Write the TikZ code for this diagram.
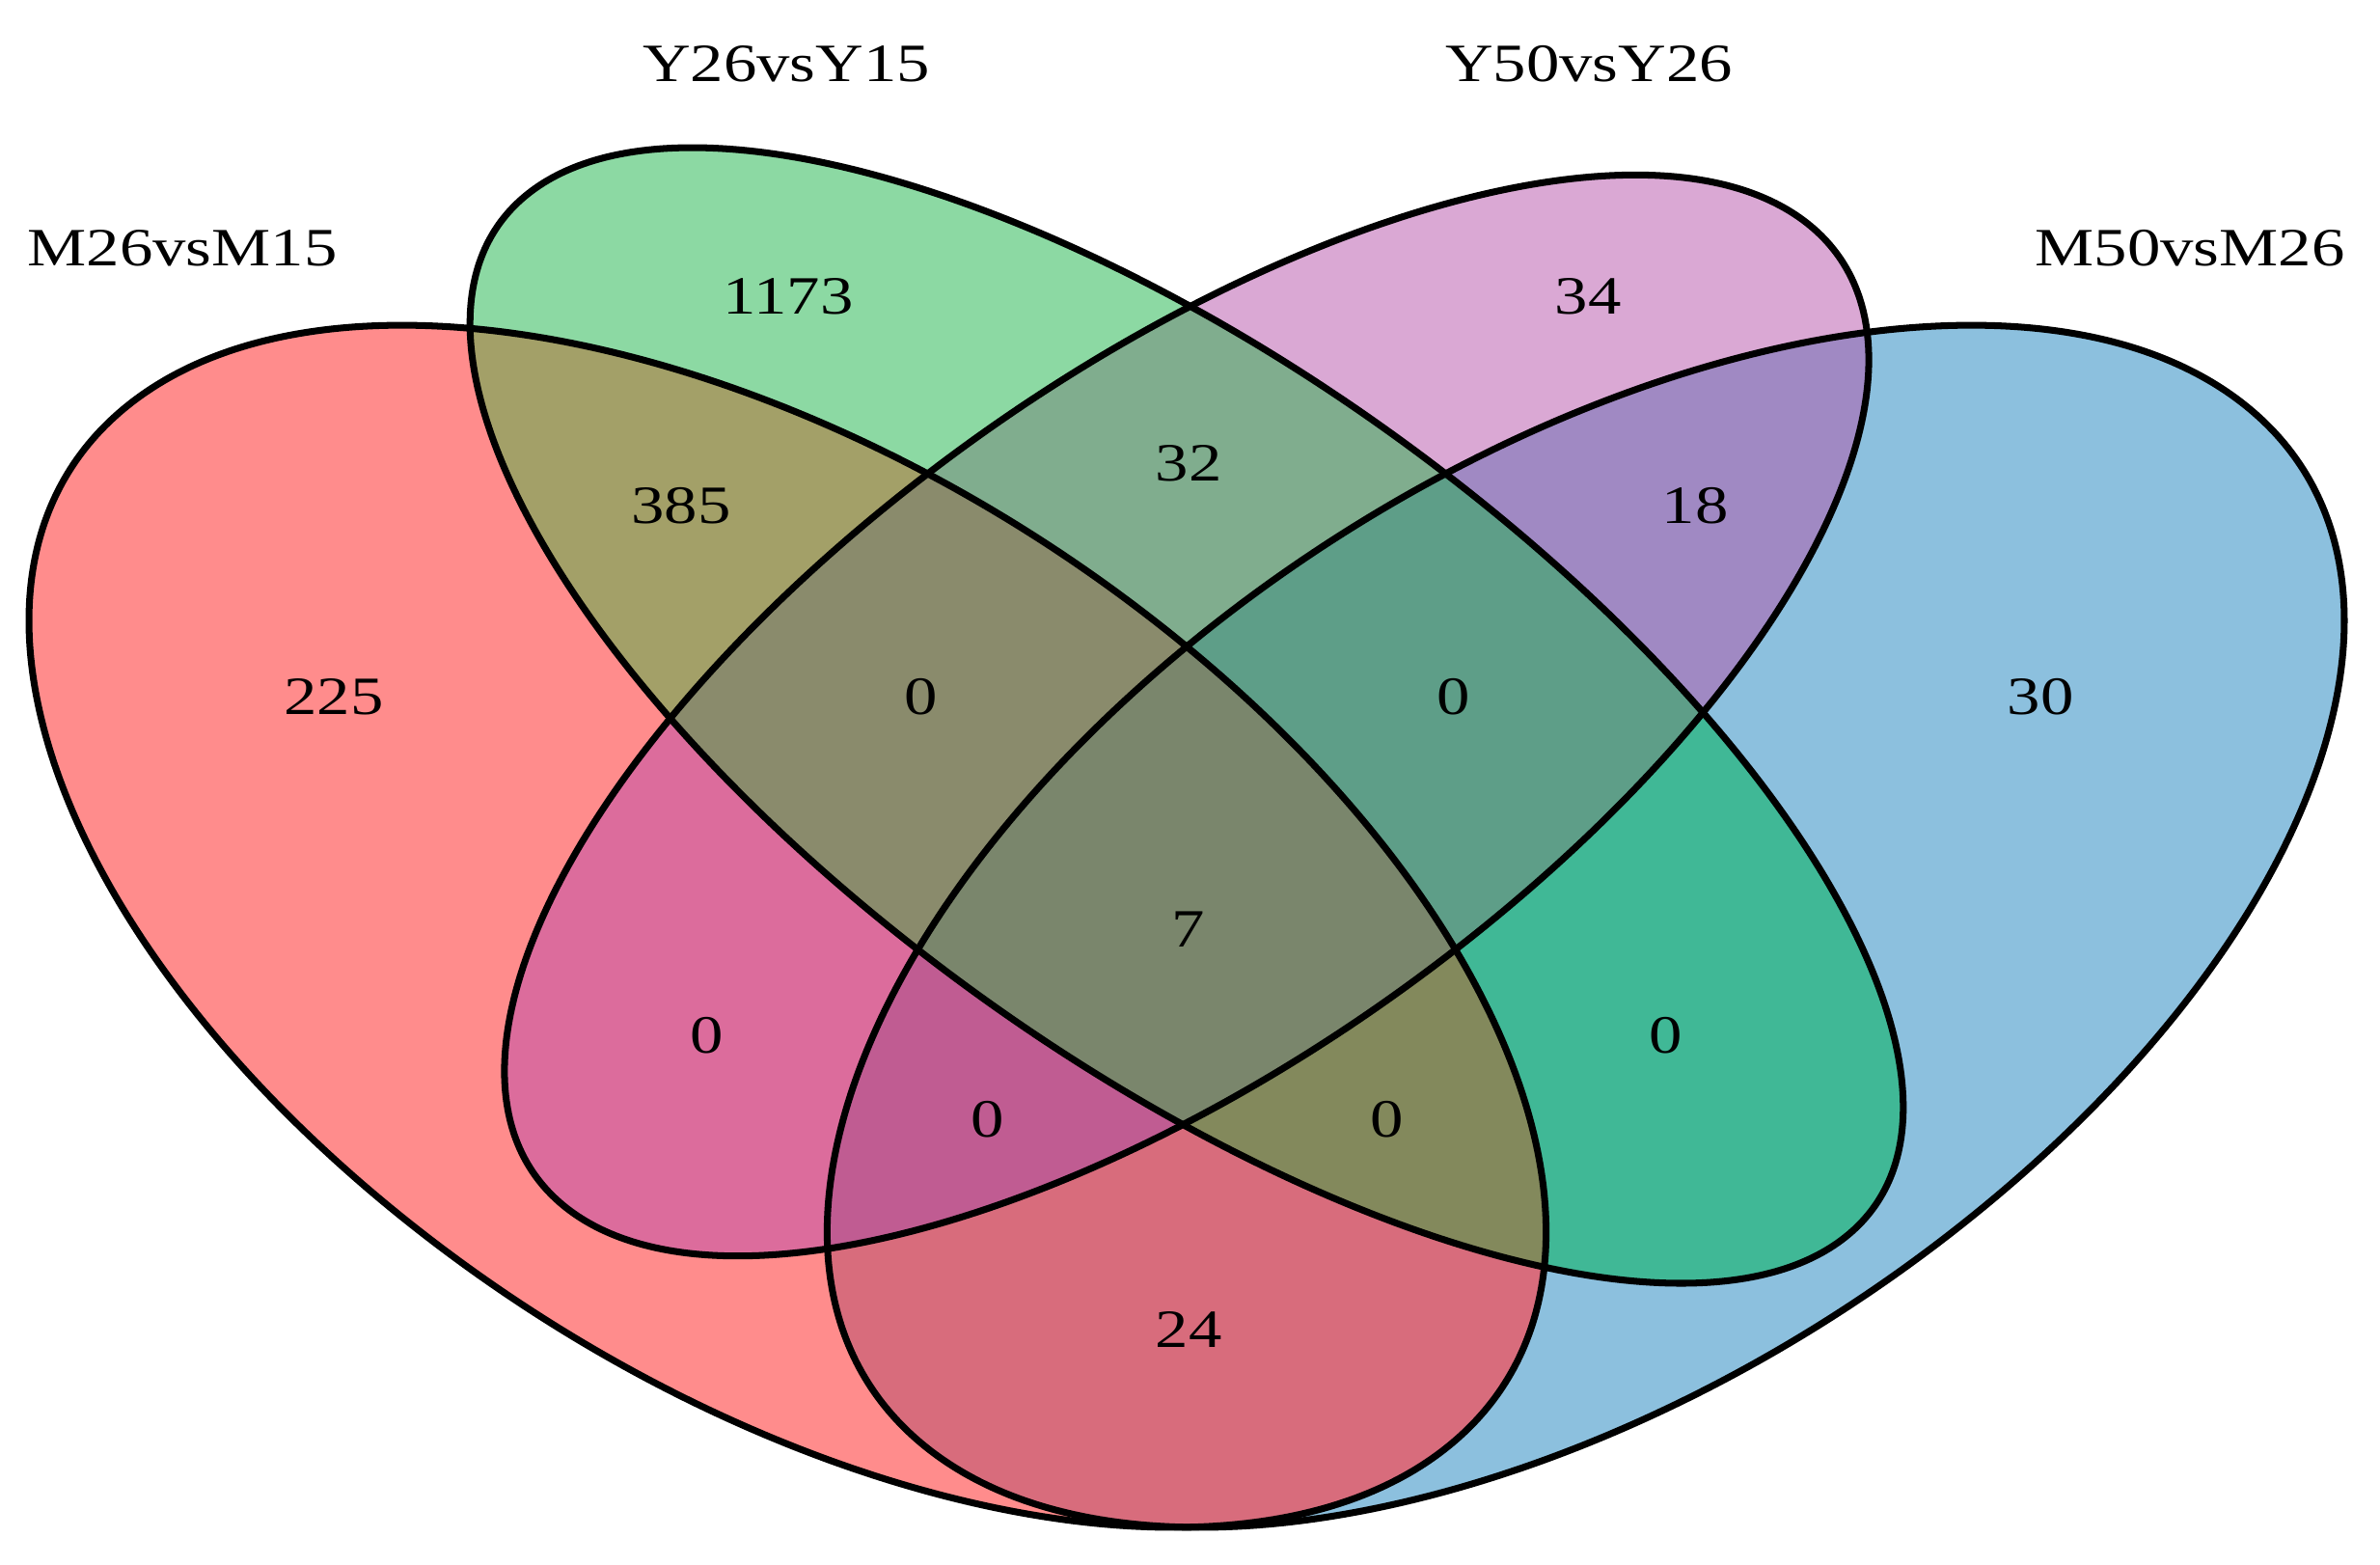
\documentclass[tikz,border=0pt]{standalone}
\usepackage{graphicx}
\usepackage{fontspec}
\setmainfont{Liberation Serif}
% region colours (single sets and overlaps)
\definecolor{rR}{RGB}{255,140,140}
\definecolor{rG}{RGB}{140,217,163}
\definecolor{rP}{RGB}{218,168,212}
\definecolor{rB}{RGB}{140,192,222}
\definecolor{rRG}{RGB}{163,160,104}
\definecolor{rGP}{RGB}{128,173,142}
\definecolor{rPB}{RGB}{160,137,195}
\definecolor{rRP}{RGB}{220,108,156}
\definecolor{rGB}{RGB}{64,184,150}
\definecolor{rRB}{RGB}{216,108,124}
\definecolor{rRGP}{RGB}{138,139,108}
\definecolor{rGPB}{RGB}{94,158,136}
\definecolor{rRPB}{RGB}{192,92,146}
\definecolor{rRGB}{RGB}{131,137,92}
\definecolor{rAll}{RGB}{122,134,108}
\newcommand{\vtxt}[1]{\scalebox{1.23}[1]{#1}}
\newcommand{\clipR}{\clip[shift={(0.35,0.47)}, rotate=135] (0,0) ellipse [x radius=0.35, y radius=0.20];}
\newcommand{\clipB}{\clip[shift={(0.65,0.47)}, rotate=45] (0,0) ellipse [x radius=0.35, y radius=0.20];}
\newcommand{\clipG}{\clip[shift={(0.50,0.57)}, rotate=135] (0,0) ellipse [x radius=0.35, y radius=0.15];}
\newcommand{\clipP}{\clip[shift={(0.50,0.57)}, rotate=45] (0,0) ellipse [x radius=0.33, y radius=0.15];}
\newcommand{\vregion}[2]{\begin{scope}#1\fill[#2] (-0.1,-0.1) rectangle (1.1,1.1);\end{scope}}
\begin{document}
\begin{tikzpicture}[
  lbl/.style={font=\fontsize{15.9}{19}\selectfont, inner sep=0pt},
  vline/.style={line width=2pt, draw=black}
]
\useasboundingbox (0,0) rectangle (24.67,16.22);
\begin{scope}[shift={(-1.49,-3.65)}, xscale=27.58, yscale=21.85]
  % single sets
  \vregion{\clipR}{rR}
  \vregion{\clipG}{rG}
  \vregion{\clipP}{rP}
  \vregion{\clipB}{rB}
  % pairs
  \vregion{\clipR\clipG}{rRG}
  \vregion{\clipG\clipP}{rGP}
  \vregion{\clipP\clipB}{rPB}
  \vregion{\clipR\clipP}{rRP}
  \vregion{\clipG\clipB}{rGB}
  \vregion{\clipR\clipB}{rRB}
  % triples
  \vregion{\clipR\clipG\clipP}{rRGP}
  \vregion{\clipG\clipP\clipB}{rGPB}
  \vregion{\clipR\clipP\clipB}{rRPB}
  \vregion{\clipR\clipG\clipB}{rRGB}
  % all four
  \vregion{\clipR\clipG\clipP\clipB}{rAll}
  % outlines
  \draw[vline, shift={(0.65,0.47)}, rotate=45] (0,0) ellipse [x radius=0.35, y radius=0.20];
  \draw[vline, shift={(0.35,0.47)}, rotate=135] (0,0) ellipse [x radius=0.35, y radius=0.20];
  \draw[vline, shift={(0.50,0.57)}, rotate=45] (0,0) ellipse [x radius=0.33, y radius=0.15];
  \draw[vline, shift={(0.50,0.57)}, rotate=135] (0,0) ellipse [x radius=0.35, y radius=0.15];
\end{scope}
% set labels
\node[lbl] (tM26) at (1.89,13.65) {\vtxt{M26vsM15}};
\node[lbl] (tY26) at (8.15,15.56) {\vtxt{Y26vsY15}};
\node[lbl] (tY50) at (16.47,15.56) {\vtxt{Y50vsY26}};
\node[lbl] (tM50) at (22.70,13.65) {\vtxt{M50vsM26}};
% counts
\node[lbl] (n1173) at (8.17,13.15) {\vtxt{1173}};
\node[lbl] (n34) at (16.46,13.15) {\vtxt{34}};
\node[lbl] (n385) at (7.06,10.98) {\vtxt{385}};
\node[lbl] (n32) at (12.32,11.42) {\vtxt{32}};
\node[lbl] (n18) at (17.57,10.98) {\vtxt{18}};
\node[lbl] (n225) at (3.46,9.00) {\vtxt{225}};
\node[lbl] (nRGP) at (9.55,9.00) {\vtxt{0}};
\node[lbl] (nGPB) at (15.07,9.00) {\vtxt{0}};
\node[lbl] (n30) at (21.15,9.00) {\vtxt{30}};
\node[lbl] (n7) at (12.32,6.59) {\vtxt{7}};
\node[lbl] (nRP) at (7.33,5.49) {\vtxt{0}};
\node[lbl] (nGB) at (17.27,5.49) {\vtxt{0}};
\node[lbl] (nRPB) at (10.24,4.62) {\vtxt{0}};
\node[lbl] (nRGB) at (14.38,4.62) {\vtxt{0}};
\node[lbl] (n24) at (12.32,2.44) {\vtxt{24}};
\end{tikzpicture}
\end{document}
